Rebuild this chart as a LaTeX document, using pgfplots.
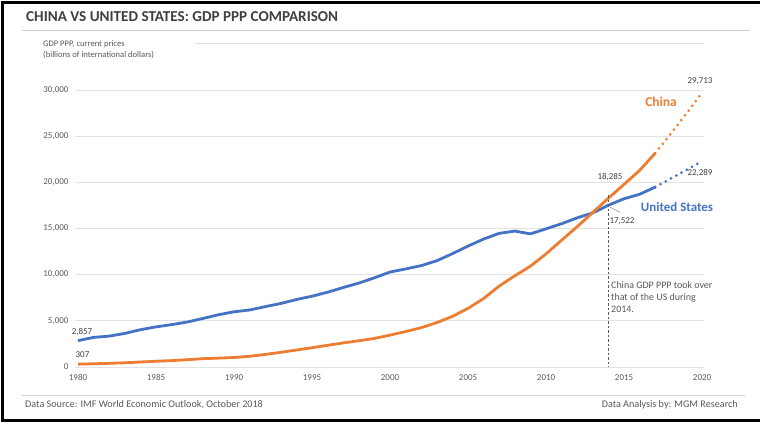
\documentclass[border=0pt]{standalone}
\usepackage{fontspec}
\setmainfont{Carlito}
\usepackage{pgfplots}
\pgfplotsset{compat=1.18}
\definecolor{usblue}{HTML}{4472C4}
\definecolor{cnorange}{HTML}{ED7D31}
\definecolor{txtgray}{HTML}{595959}
\definecolor{titlegray}{HTML}{3F3F3F}
\definecolor{gridgray}{HTML}{E2E2E2}
\begin{document}
\begin{tikzpicture}[x=1bp,y=1bp]
\path[use as bounding box] (0,0) rectangle (760,423);
\draw[line width=3bp] (760,420.5) -- (2.5,420.5) -- (2.5,2.5) -- (760,2.5);
\node[anchor=west, font=\bfseries\fontsize{15.2}{18}\selectfont, text=titlegray, inner sep=0] at (26,406) {CHINA VS UNITED STATES: GDP PPP COMPARISON};
\draw[black!18, line width=1bp] (22,392) -- (750,392);
\draw[black!18, line width=1bp] (22,28) -- (745,28);
\node[anchor=west, font=\fontsize{10.2}{12}\selectfont, text=txtgray, inner sep=0] at (25,18) {Data Source: IMF World Economic Outlook, October 2018};
\node[anchor=east, font=\fontsize{10.2}{12}\selectfont, text=txtgray, inner sep=0] at (738,18) {Data Analysis by: MGM Research};
\begin{axis}[
  at={(74.9bp,56bp)}, anchor=south west,
  scale only axis, width=628.7bp, height=323.2bp,
  xmin=1979.8, xmax=2020.1, ymin=0, ymax=35000,
  axis line style={draw=none}, tick style={draw=none},
  xtick={1980,1985,...,2020}, ytick={0,5000,...,30000},
  ymajorgrids,
  grid style={gridgray, line width=0.8bp},
  /pgf/number format/assume math mode=true,
  x tick label style={/pgf/number format/1000 sep={}, font=\fontsize{9}{10}\selectfont, text=txtgray, yshift=-4bp},
  y tick label style={/pgf/number format/1000 sep={,}, font=\fontsize{9}{10}\selectfont, text=txtgray, xshift=-3bp},
  scaled y ticks=false,
  clip=false,
]
% top gridline (partly hidden behind the axis title)
\draw[gridgray, line width=0.8bp] (axis cs:1987.5,35000) -- (axis cs:2020.1,35000);
% United States actual
\addplot[usblue, line width=2.8bp, line join=round] coordinates {
(1980,2857) (1981,3207) (1982,3345) (1983,3638) (1984,4041) (1985,4347)
(1986,4590) (1987,4870) (1988,5253) (1989,5658) (1990,5980) (1991,6174)
(1992,6539) (1993,6879) (1994,7309) (1995,7664) (1996,8100) (1997,8609)
(1998,9089) (1999,9661) (2000,10285) (2001,10622) (2002,10978) (2003,11511)
(2004,12275) (2005,13094) (2006,13856) (2007,14478) (2008,14719) (2009,14419)
(2010,14964) (2011,15518) (2012,16155) (2013,16692) (2014,17522) (2015,18219)
(2016,18707) (2017,19485)};
% United States projection
\addplot[usblue, line width=3bp, line cap=round, dash pattern=on 0bp off 6bp] coordinates {
(2017,19485) (2018,20413) (2019,21345) (2020,22289)};
% China actual
\addplot[cnorange, line width=2.8bp, line join=round] coordinates {
(1980,307) (1981,350) (1982,400) (1983,455) (1984,540) (1985,625)
(1986,690) (1987,790) (1988,900) (1989,960) (1990,1030) (1991,1160)
(1992,1360) (1993,1590) (1994,1840) (1995,2090) (1996,2350) (1997,2610)
(1998,2840) (1999,3100) (2000,3450) (2001,3840) (2002,4260) (2003,4810)
(2004,5480) (2005,6350) (2006,7420) (2007,8770) (2008,9880) (2009,10920)
(2010,12250) (2011,13740) (2012,15200) (2013,16740) (2014,18285) (2015,19780)
(2016,21290) (2017,23160)};
% China projection
\addplot[cnorange, line width=3bp, line cap=round, dash pattern=on 0bp off 6bp] coordinates {
(2017,23160) (2018,25270) (2019,27450) (2020,29713)};
% dashed marker line at 2014
\addplot[black!65, line width=0.6bp, dash pattern=on 2.5bp off 2bp] coordinates {(2014,18600) (2014,0)};
\addplot[black!45, line width=0.5bp] coordinates {(2014.1,17300) (2014.75,16750)};
\end{axis}
\node[anchor=north west, align=left, font=\fontsize{8.6}{11.5}\selectfont, text=txtgray, inner sep=0] at (43,383) {GDP PPP, current prices\\(billions of international dollars)};
% data labels (pixel positions converted: tikz y = 423 - py)
\node[font=\fontsize{9}{10}\selectfont, text=titlegray] at (82,91) {2,857};
\node[font=\fontsize{9}{10}\selectfont, text=titlegray] at (82.5,68) {307};
\node[font=\bfseries\fontsize{13.5}{15}\selectfont, text=cnorange] at (661,321) {China};
\node[font=\bfseries\fontsize{13}{15}\selectfont, text=usblue] at (677,216) {United States};
\node[font=\fontsize{9}{10}\selectfont, text=titlegray] at (700,342) {29,713};
\node[font=\fontsize{9}{10}\selectfont, text=titlegray] at (700,250) {22,289};
\node[font=\fontsize{9}{10}\selectfont, text=titlegray] at (610,246) {18,285};
\node[font=\fontsize{9}{10}\selectfont, text=titlegray] at (622,202) {17,522};
\node[anchor=north west, align=left, font=\fontsize{10}{12}\selectfont, text=txtgray, inner sep=0] at (611,142) {China GDP PPP took over\\that of the US during\\2014.};
\end{tikzpicture}
\end{document}
